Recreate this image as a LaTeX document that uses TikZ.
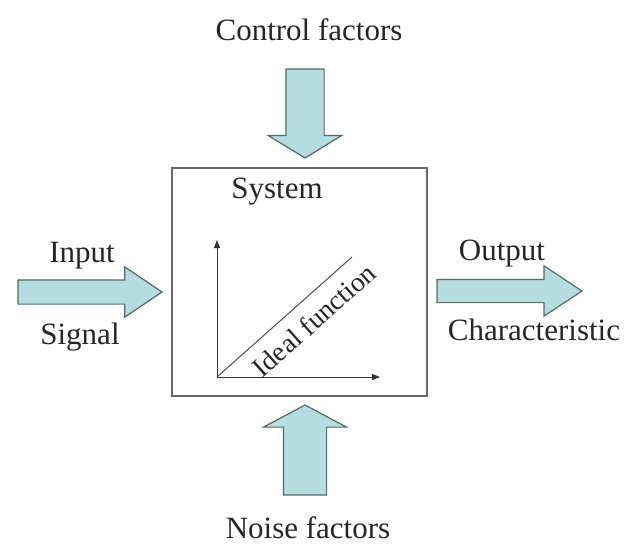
\documentclass[tikz,border=0pt]{standalone}
\usepackage{fontspec}
\setmainfont{Liberation Serif}
\usetikzlibrary{shapes,arrows.meta,positioning}
\usepackage{xcolor}
\definecolor{arrowfill}{RGB}{180,221,224}
\definecolor{arrowline}{RGB}{85,105,105}
\definecolor{boxline}{RGB}{105,105,105}

\begin{document}
\begin{tikzpicture}[
  x=0.5pt, y=-0.5pt,
  fatarrow/.style={single arrow, draw=arrowline, fill=arrowfill, line width=0.6pt, inner xsep=0pt, outer sep=0pt, anchor=tip},
  label/.style={anchor=base, font=\fontsize{15.5}{18}\selectfont, text=black!85},
  sysbox/.style={rectangle, draw=boxline, line width=0.7pt, minimum width=127.5pt, minimum height=114pt},
  axis/.style={-{Triangle[length=4pt,width=3pt]}, draw=black!80, line width=0.5pt},
  >=Stealth
]
\useasboundingbox (0,0) rectangle (640,556);

% --- Sistema ---
\node[sysbox] (system) at (299.5,282) {};
\node[label] (systxt) at (277,198) {System};

% --- Ejes y funcion ideal ---
\coordinate (origin) at (217,377);
\coordinate (ytop) at (217,240);
\coordinate (xend) at (380,377);
\coordinate (ideal) at (352,257);
\draw[axis] (origin) -- (ytop);
\draw[axis] (origin) -- (xend);
\draw[draw=black!70, line width=0.5pt] (origin) -- (ideal);
\node[font=\fontsize{13.8}{16}\selectfont, rotate=41.6, text=black!85] (idealtxt) at (314,320) {Ideal function};

% --- Flechas (colocadas por la punta) ---
\node[fatarrow, rotate=-90, minimum height=44.5pt, inner ysep=9.25pt,
      single arrow head extend=8.75pt, single arrow tip angle=117] (control) at (305,158) {};
\node[fatarrow, minimum height=72pt, inner ysep=5.75pt,
      single arrow head extend=6.5pt, single arrow tip angle=68] (input) at (162,292) {};
\node[fatarrow, minimum height=72.5pt, inner ysep=5.5pt,
      single arrow head extend=6.75pt, single arrow tip angle=67] (output) at (582,291) {};
\node[fatarrow, rotate=90, minimum height=45pt, inner ysep=10.5pt,
      single arrow head extend=10pt, single arrow tip angle=124] (noise) at (305,405) {};

% --- Etiquetas ---
\node[label] (ctrltxt) at (309,40) {Control factors};
\node[label] (inputtxt) at (82,262) {Input};
\node[label] (signaltxt) at (80,344) {Signal};
\node[label] (outputtxt) at (502,260) {Output};
\node[label] (chartxt) at (534,340) {Characteristic};
\node[label] (noisetxt) at (308,538) {Noise factors};

\end{tikzpicture}
\end{document}
